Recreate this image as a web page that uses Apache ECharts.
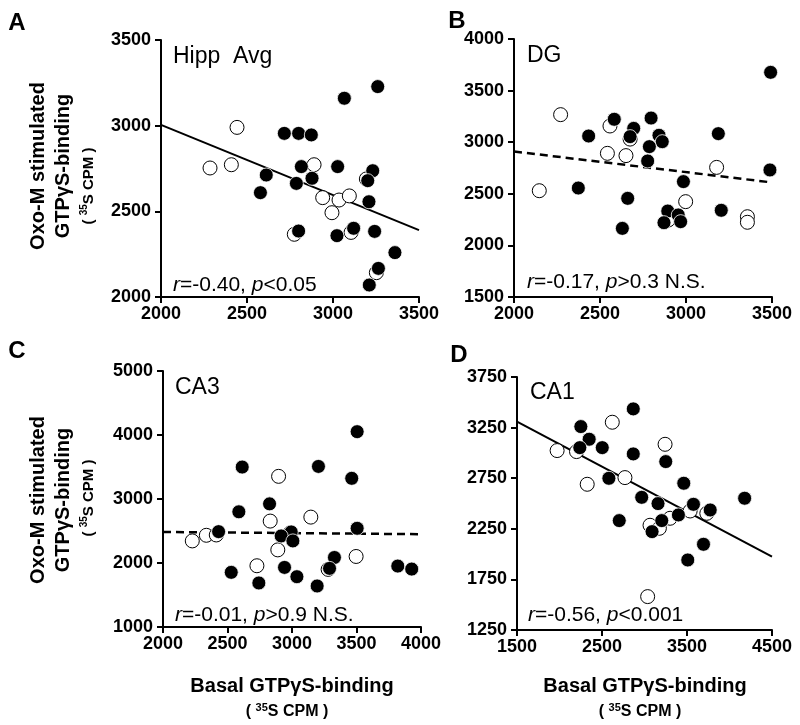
<!DOCTYPE html>
<html><head><meta charset="utf-8">
<script src="https://cdn.jsdelivr.net/npm/echarts@6/dist/echarts.min.js"></script>
<style>html,body{margin:0;padding:0;background:#fff}#c{width:800px;height:725px}</style>
</head><body><div id="c"></div><script>
// ---- Data ----
var aFilled = [[3066,3160],[3260,3228],[2717,2955],[2800,2955],[2874,2946],[2816,2761],[3027,2761],[3231,2737],[3202,2679],[2612,2712],[2878,2693],[2787,2663],[2578,2609],[3209,2556],[2800,2385],[3023,2358],[3120,2401],[3242,2383],[3360,2259],[3264,2167],[3211,2070]];
var aOpen = [[2442,2990],[2285,2753],[2409,2772],[2890,2772],[2940,2580],[3035,2566],[3095,2590],[2994,2492],[2775,2366],[3105,2377],[3194,2689],[3252,2142]];
var aLine = [[2000,3005],[3500,2390]];

var bFilled = [[3492,3677],[2583,3222],[2797,3234],[2696,3134],[2434,3060],[2675,3054],[2843,3067],[2862,3005],[3188,3083],[2787,2957],[2777,2818],[3488,2731],[2374,2556],[2985,2618],[2661,2456],[2630,2165],[2894,2333],[2955,2295],[2969,2230],[2872,2220],[3205,2340]];
var bOpen = [[2271,3267],[2558,3157],[2543,2892],[2651,2870],[2675,3030],[3178,2756],[2147,2530],[2998,2424],[3357,2278],[3357,2224],[2897,2246]];
var bLine = [[2000,2910],[3500,2610]];

var cFilled = [[3505,4052],[2614,3499],[3205,3509],[3463,3323],[2826,2924],[2588,2800],[3505,2542],[2431,2490],[2994,2485],[2916,2423],[3007,2345],[3329,2086],[3291,1916],[2942,1931],[2529,1854],[3038,1786],[2743,1688],[3195,1641],[3820,1952],[3928,1905]];
var cOpen = [[2896,3354],[2831,2655],[3146,2717],[2227,2345],[2336,2433],[2413,2438],[2890,2205],[2728,1957],[3497,2102],[2986,2470],[3280,1900]];
var cLine = [[2000,2485],[4000,2450]];

var dFilled = [[2868,3435],[2251,3260],[2349,3135],[2239,3052],[2503,3052],[2868,2990],[3250,2914],[2581,2749],[3462,2700],[2967,2561],[3159,2499],[4178,2552],[3576,2492],[3773,2436],[3399,2387],[3203,2331],[2703,2331],[3089,2222],[3694,2097],[3509,1942]];
var dOpen = [[1972,3023],[2200,3013],[2621,3303],[3242,3085],[2770,2756],[2326,2690],[3065,2285],[3175,2255],[3301,2354],[3537,2426],[3733,2403],[3037,1580]];
var dLine = [[1500,3310],[4500,1975]];

var panelLetters = ['A','B','C','D'];
var regionNames = ['Hipp  Avg','DG','CA3','CA1'];
var statTexts = ['{i|r}=-0.40, {i|p}<0.05','{i|r}=-0.17, {i|p}>0.3 N.S.','{i|r}=-0.01, {i|p}>0.9 N.S.','{i|r}=-0.56, {i|p}<0.001'];
var xRanges = [[2000,3500,500],[2000,3500,500],[2000,4000,500],[1500,4500,1000]];
var yRanges = [[2000,3500,500],[1500,4000,500],[1000,5000,1000],[1250,3750,500]];
var yTitle = ['Oxo-M stimulated','GTPγS-binding','( {s|35}S CPM )'];
var xTitle = ['Basal GTPγS-binding','( {s|35}S CPM )'];

// ---- Layout ----
var FONT = 'Liberation Sans, Arial, sans-serif';
var grids = [
  {left:161, top:40, width:258, height:257},
  {left:514, top:39, width:258, height:258},
  {left:163, top:371, width:258, height:256},
  {left:517, top:377, width:255, height:253}
];
var filled = [aFilled,bFilled,cFilled,dFilled];
var opened = [aOpen,bOpen,cOpen,dOpen];
var lines = [aLine,bLine,cLine,dLine];
var dashed = [false,true,true,false];

var xAxes=[], yAxes=[], series=[], graphics=[];
function axisCommon(){
  return {
    type:'value', splitLine:{show:false},
    axisLine:{show:true, onZero:false, lineStyle:{color:'#000', width:2}},
    axisTick:{show:true, inside:false, length:6, lineStyle:{color:'#000', width:2}},
    axisLabel:{color:'#000', fontWeight:'bold', fontSize:18, fontFamily:FONT, formatter:function(v){return String(v);}}
  };
}
for (var i=0;i<4;i++){
  var xa = axisCommon(); xa.gridIndex=i; xa.min=xRanges[i][0]; xa.max=xRanges[i][1]; xa.interval=xRanges[i][2]; xa.axisLabel.margin=8;
  var ya = axisCommon(); ya.gridIndex=i; ya.min=yRanges[i][0]; ya.max=yRanges[i][1]; ya.interval=yRanges[i][2]; ya.axisLabel.margin=10;
  xAxes.push(xa); yAxes.push(ya);
  series.push({type:'line', xAxisIndex:i, yAxisIndex:i, data:lines[i], symbol:'none', silent:true,
    lineStyle:{color:'#000', width:dashed[i]?2.5:2, type:dashed[i]?[8,5]:'solid'}, z:1});
  series.push({type:'scatter', xAxisIndex:i, yAxisIndex:i, data:opened[i], symbolSize:14,
    itemStyle:{color:'#fff', borderColor:'#000', borderWidth:1, opacity:1}, z:2});
  series.push({type:'scatter', xAxisIndex:i, yAxisIndex:i, data:filled[i], symbolSize:14,
    itemStyle:{color:'#000', borderColor:'#fff', borderWidth:0.8, opacity:1}, z:3});
}

// panel letters
var letterPos = [[17,23],[457,21],[17,351],[459,355]];
for (var i=0;i<4;i++){
  graphics.push({type:'text', x:letterPos[i][0], y:letterPos[i][1],
    style:{text:panelLetters[i], fontSize:24, fontWeight:'bold', fontFamily:FONT, fill:'#000', textAlign:'center', textVerticalAlign:'middle'}});
}
// region names and stats
var namePos = [[173,57],[527,56],[175,388],[530,393]];
var statPos = [[173,285],[527,282],[175,615],[528,615]];
for (var i=0;i<4;i++){
  graphics.push({type:'text', x:namePos[i][0], y:namePos[i][1],
    style:{text:regionNames[i], fontSize:23, fontFamily:FONT, fill:'#000', textAlign:'left', textVerticalAlign:'middle'}});
  graphics.push({type:'text', x:statPos[i][0], y:statPos[i][1],
    style:{text:statTexts[i], fontSize:21, fontFamily:FONT, fill:'#000', textAlign:'left', textVerticalAlign:'middle',
      rich:{i:{fontStyle:'italic', fontSize:21, fontFamily:FONT}}}});
}
// y titles (rotated)
var yLineX = [38, 63, 89];
var yLineCenters = [[166,166,186],[500,500,498]];
for (var r=0;r<2;r++){
  for (var k=0;k<3;k++){
    var small = (k===2);
    graphics.push({type:'text', x:yLineX[k], y:yLineCenters[r][k], rotation:Math.PI/2,
      style:{text:yTitle[k], fontSize:small?15:20, fontWeight:'bold', fontFamily:FONT, fill:'#000',
        textAlign:'center', textVerticalAlign:'middle', lineHeight:small?19:22,
        rich:{s:{fontSize:10, fontWeight:'bold', fontFamily:FONT, verticalAlign:'top', lineHeight:19}}}});
  }
}
// x titles
var xTitleCenters = [292, 645];
for (var c=0;c<2;c++){
  graphics.push({type:'text', x:xTitleCenters[c], y:686,
    style:{text:xTitle[0], fontSize:20, fontWeight:'bold', fontFamily:FONT, fill:'#000', textAlign:'center', textVerticalAlign:'middle'}});
  graphics.push({type:'text', x:xTitleCenters[c]-5, y:712,
    style:{text:xTitle[1], fontSize:16, fontWeight:'bold', fontFamily:FONT, fill:'#000', textAlign:'center', textVerticalAlign:'middle', lineHeight:20,
      rich:{s:{fontSize:11, fontWeight:'bold', fontFamily:FONT, verticalAlign:'top', lineHeight:20}}}});
}

var chart = echarts.init(document.getElementById('c'), null, {renderer:'canvas'});
chart.setOption({
  animation:false, backgroundColor:'#fff',
  grid:grids, xAxis:xAxes, yAxis:yAxes, series:series, graphic:graphics
});
</script></body></html>
